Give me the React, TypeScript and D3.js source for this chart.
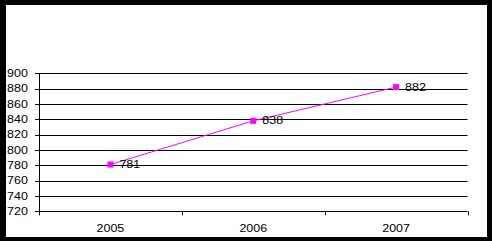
import React from "react";
import * as d3 from "d3";

const categories = ["2005", "2006", "2007"];
const values = [781, 838, 882];
const yTicks = [720, 740, 760, 780, 800, 820, 840, 860, 880, 900];

const W = 492;
const H = 241;
const plot = { left: 39, right: 467.5, top: 73.3, bottom: 211.3 };
const font = "'Liberation Sans', Arial, sans-serif";
const FS = 10;
const SX = 1.25;

function T(props: {
  x: number;
  y: number;
  anchor?: "start" | "middle" | "end";
  dy?: string;
  children: React.ReactNode;
}) {
  return (
    <text
      transform={`translate(${props.x},${props.y}) scale(${SX},1)`}
      textAnchor={props.anchor ?? "start"}
      dy={props.dy}
      fontFamily={font}
      fontSize={FS}
      fill="#000"
    >
      {props.children}
    </text>
  );
}

export default function App() {
  const x = d3
    .scaleBand<string>()
    .domain(categories)
    .range([plot.left, plot.right])
    .paddingInner(0)
    .paddingOuter(0);
  const y = d3.scaleLinear().domain([720, 900]).range([plot.bottom, plot.top]);
  const cx = (c: string) => (x(c) ?? 0) + x.bandwidth() / 2;
  const line = d3
    .line<number>()
    .x((_, i) => cx(categories[i]))
    .y((d) => y(d));
  const boundaries = [...categories.map((c) => x(c) ?? 0), plot.right];

  return (
    <svg
      width={W}
      height={H}
      style={{ position: "fixed", left: 0, top: 0, display: "block" }}
    >
      <rect x={0} y={0} width={W} height={H} fill="#000" />
      <rect x={6} y={5} width={481} height={232} fill="#fff" />
      {yTicks.map((t) => (
        <g key={t}>
          <line
            x1={plot.left - 4}
            x2={plot.right}
            y1={Math.round(y(t)) + 0.5}
            y2={Math.round(y(t)) + 0.5}
            stroke="#000"
            strokeWidth={1}
          />
          <T x={7} y={y(t)} dy="0.36em">
            {t}
          </T>
        </g>
      ))}
      <line
        x1={plot.left + 0.5}
        x2={plot.left + 0.5}
        y1={plot.top}
        y2={plot.bottom}
        stroke="#000"
      />
      {boundaries.map((b, i) => (
        <line
          key={i}
          x1={Math.round(b) + 0.5}
          x2={Math.round(b) + 0.5}
          y1={plot.bottom}
          y2={plot.bottom + 4}
          stroke="#000"
        />
      ))}
      {categories.map((c) => (
        <T key={c} x={cx(c)} y={232} anchor="middle">
          {c}
        </T>
      ))}
      <path d={line(values) ?? ""} fill="none" stroke="#ff00ff" strokeWidth={1} />
      {values.map((v, i) => (
        <g key={i}>
          <rect
            x={cx(categories[i]) - 3}
            y={y(v) - 3}
            width={6}
            height={6}
            fill="#ff00ff"
          />
          <T x={cx(categories[i]) + 9} y={y(v)} dy="0.36em">
            {v}
          </T>
        </g>
      ))}
    </svg>
  );
}
